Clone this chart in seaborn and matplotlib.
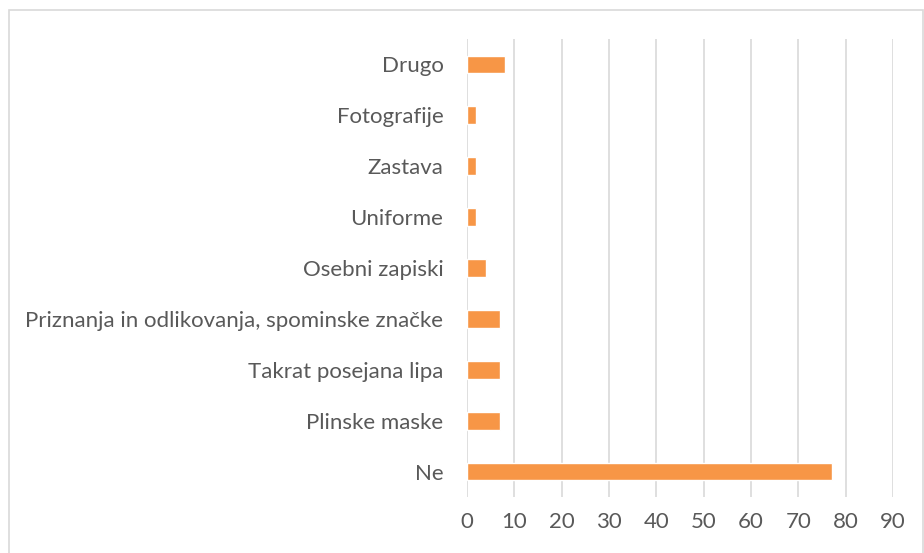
import numpy as np
import pandas as pd
import matplotlib.pyplot as plt
import seaborn as sns
from matplotlib.patches import Rectangle

# data
categories = ["Drugo", "Fotografije", "Zastava", "Uniforme", "Osebni zapiski",
              "Priznanja in odlikovanja, spominske značke", "Takrat posejana lipa",
              "Plinske maske", "Ne"]
values = [8, 2, 2, 2, 4, 7, 7, 7, 77]
xticks = list(range(0, 100, 10))

df = pd.DataFrame({"kategorija": categories, "stevilo": values})

sns.set_style("white")
plt.rcParams["font.family"] = ["Lato", "DejaVu Sans"]

fig = plt.figure(figsize=(9.24, 5.53), dpi=100)
ax = fig.add_axes([0.5054, 0.1013, 0.4611, 0.8282])

sns.barplot(data=df, y="kategorija", x="stevilo", orient="h", color="#F79646",
            saturation=1, width=0.35, ax=ax)

ax.set_xlim(0, 90)
ax.set_xticks(xticks)
ax.set_xlabel("")
ax.set_ylabel("")
ax.grid(axis="x", color="#d9d9d9", linewidth=1.2)
ax.set_axisbelow(True)
for s in ["top", "right", "bottom", "left"]:
    ax.spines[s].set_visible(False)
ax.tick_params(axis="both", length=0, labelcolor="#595959", labelsize=16)
ax.tick_params(axis="y", pad=17)
ax.tick_params(axis="x", pad=11)

# outer chart frame
fig.patches.append(Rectangle((8.5 / 924, -0.05), 914 / 924, 1.05 - 10 / 553,
                             transform=fig.transFigure, fill=False,
                             edgecolor="#d9d9d9", linewidth=1.2))

fig.savefig("out.png", dpi=100)
